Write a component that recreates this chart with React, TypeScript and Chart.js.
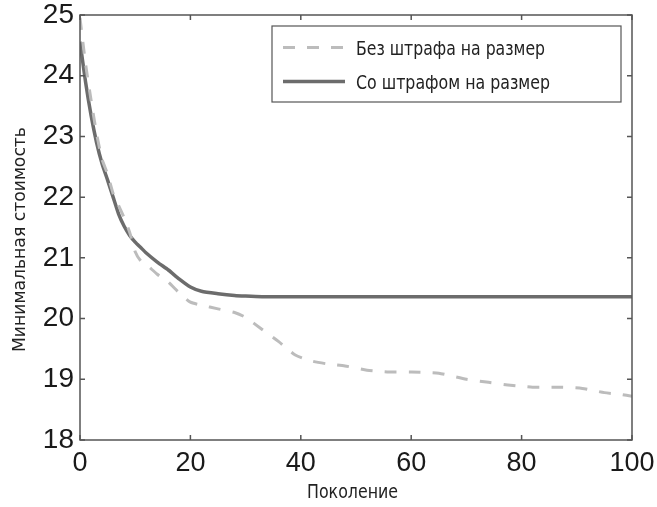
import React, { useEffect, useRef } from "react";
import { Chart, registerables } from "chart.js";

Chart.register(...registerables);

const generations = [0, 1, 2, 3, 4, 5, 6, 7, 8, 9, 10, 11, 12, 14, 16, 18, 20, 22, 25, 28, 30, 33, 36, 39, 42, 45, 48, 52, 56, 60, 65, 70, 74, 78, 82, 87, 91, 95, 98, 100];
const withoutPenalty = [24.95, 24.2, 23.6, 23.05, 22.62, 22.38, 22.06, 21.86, 21.66, 21.42, 21.1, 20.95, 20.89, 20.73, 20.6, 20.42, 20.27, 20.22, 20.16, 20.1, 20.02, 19.82, 19.62, 19.4, 19.3, 19.25, 19.22, 19.15, 19.12, 19.12, 19.1, 19.0, 18.95, 18.9, 18.87, 18.87, 18.85, 18.78, 18.75, 18.72];
const withPenalty = [24.56, 23.9, 23.35, 22.9, 22.55, 22.28, 22.0, 21.72, 21.52, 21.37, 21.26, 21.17, 21.08, 20.93, 20.8, 20.65, 20.52, 20.45, 20.41, 20.38, 20.37, 20.36, 20.36, 20.36, 20.36, 20.36, 20.36, 20.36, 20.36, 20.36, 20.36, 20.36, 20.36, 20.36, 20.36, 20.36, 20.36, 20.36, 20.36, 20.36];
const seriesLabels = ["Без штрафа на размер", "Со штрафом на размер"];
const xTitle = "Поколение";
const yTitle = "Минимальная стоимость";

const NARROW = "'DejaVu Sans Condensed', 'Liberation Sans', sans-serif";
const TICKFONT = "'Liberation Sans', Arial, sans-serif";
const AXIS = "#555555";

function drawFit(ctx: any, text: string, cx: number, cy: number, size: number, width: number, rot: number, align: string) {
  ctx.save();
  ctx.font = size + "px " + NARROW;
  const w = ctx.measureText(text).width;
  ctx.translate(cx, cy);
  ctx.rotate(rot);
  ctx.scale(width / w, 1);
  ctx.fillStyle = "#222222";
  ctx.textBaseline = "alphabetic";
  ctx.textAlign = align;
  ctx.fillText(text, 0, 0);
  ctx.restore();
}

const boxPlugin = {
  id: "boxPlugin",
  afterDraw(chart: any) {
    const { ctx, chartArea: a, scales } = chart;
    const x = scales.x;
    const y = scales.y;
    ctx.save();
    ctx.strokeStyle = AXIS;
    ctx.lineWidth = 1.5;
    ctx.strokeRect(a.left, a.top, a.right - a.left, a.bottom - a.top);
    const tl = 5;
    ctx.beginPath();
    x.ticks.forEach((t: any) => {
      const px = x.getPixelForValue(t.value);
      ctx.moveTo(px, a.bottom);
      ctx.lineTo(px, a.bottom - tl);
      ctx.moveTo(px, a.top);
      ctx.lineTo(px, a.top + tl);
    });
    y.ticks.forEach((t: any) => {
      const py = y.getPixelForValue(t.value);
      ctx.moveTo(a.left, py);
      ctx.lineTo(a.left + tl, py);
      ctx.moveTo(a.right, py);
      ctx.lineTo(a.right - tl, py);
    });
    ctx.stroke();

    // axis titles
    drawFit(ctx, xTitle, 352.5, 498, 20, 91, 0, "center");
    drawFit(ctx, yTitle, 25, 239.5, 17, 225, -Math.PI / 2, "center");

    // legend
    const lx = 272, ly = 26, lw = 349, lh = 76;
    ctx.fillStyle = "#ffffff";
    ctx.fillRect(lx, ly, lw, lh);
    ctx.strokeStyle = AXIS;
    ctx.lineWidth = 1.2;
    ctx.strokeRect(lx, ly, lw, lh);
    const rows = [47.5, 81.5];
    const widths = [189, 194];
    chart.data.datasets.forEach((ds: any, i: number) => {
      const ry = rows[i];
      ctx.beginPath();
      ctx.strokeStyle = ds.borderColor;
      ctx.lineWidth = ds.borderWidth;
      ctx.setLineDash(ds.borderDash || []);
      ctx.moveTo(283, ry);
      ctx.lineTo(345, ry);
      ctx.stroke();
      ctx.setLineDash([]);
      drawFit(ctx, ds.label, 356, ry + 7, 20, widths[i], 0, "left");
    });
    ctx.restore();
  },
};

export default function App() {
  const ref = useRef<HTMLCanvasElement>(null);
  useEffect(() => {
    document.body.style.margin = "0";
    const chart = new Chart(ref.current as HTMLCanvasElement, {
      type: "line",
      data: {
        datasets: [
          {
            label: seriesLabels[0],
            data: generations.map((g, i) => ({ x: g, y: withoutPenalty[i] })),
            borderColor: "#bcbcbc",
            borderWidth: 3,
            borderDash: [12, 12],
            pointRadius: 0,
            tension: 0.2,
          },
          {
            label: seriesLabels[1],
            data: generations.map((g, i) => ({ x: g, y: withPenalty[i] })),
            borderColor: "#6c6c6c",
            borderWidth: 3.5,
            pointRadius: 0,
            tension: 0.2,
          },
        ],
      },
      options: {
        animation: false,
        responsive: false,
        layout: { padding: { left: 0, right: 25, top: 15, bottom: 0 } },
        plugins: { legend: { display: false }, tooltip: { enabled: false } },
        scales: {
          x: {
            type: "linear",
            min: 0,
            max: 100,
            ticks: { stepSize: 20, color: "#1a1a1a", font: { size: 27, family: TICKFONT }, padding: 7, maxRotation: 0 },
            grid: { display: false, drawTicks: false },
            border: { display: false },
            title: { display: false },
            afterFit: (s: any) => { s.height = 67; s.paddingLeft = 0; s.paddingRight = 0; },
          },
          y: {
            type: "linear",
            min: 18,
            max: 25,
            ticks: { stepSize: 1, color: "#1a1a1a", font: { size: 28, family: TICKFONT }, padding: 6 },
            grid: { display: false, drawTicks: false },
            border: { display: false },
            title: { display: false },
            afterFit: (s: any) => { s.width = 80; s.paddingTop = 0; s.paddingBottom = 0; },
          },
        },
      },
      plugins: [boxPlugin],
    } as any);
    return () => chart.destroy();
  }, []);
  return <canvas ref={ref} width={657} height={507} style={{ display: "block" }} />;
}
